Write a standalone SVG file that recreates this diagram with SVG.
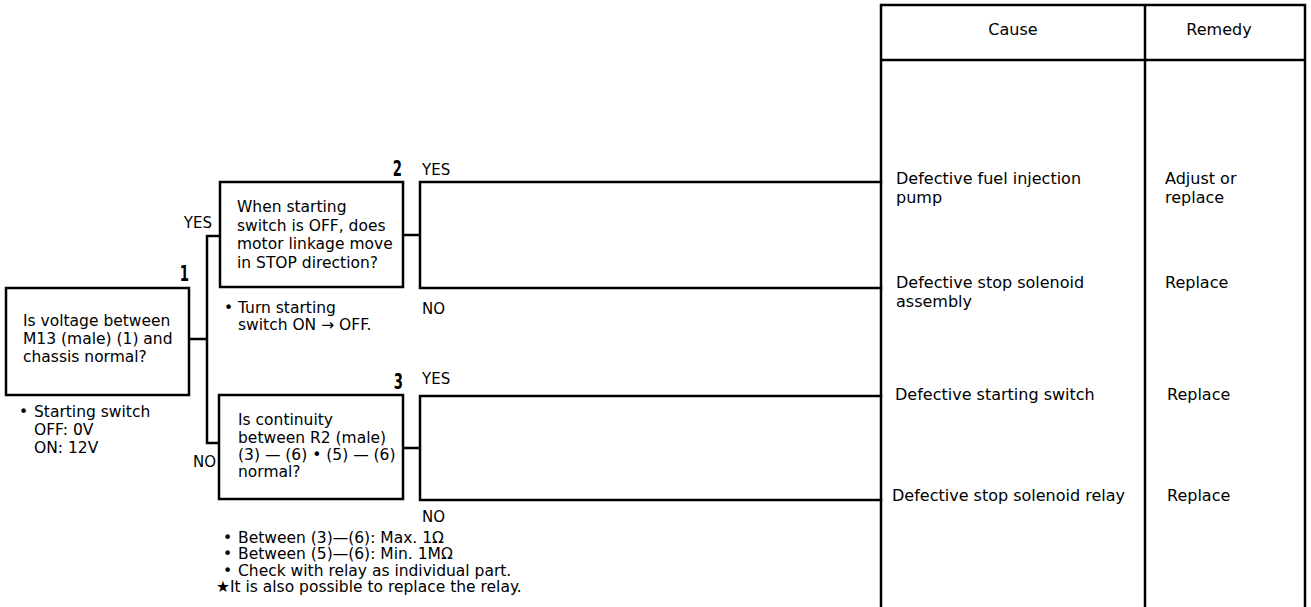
<svg xmlns="http://www.w3.org/2000/svg" width="1311" height="607" viewBox="0 0 1311 607">
<style>
  .ln{fill:none;stroke:#000;stroke-width:2.5;stroke-linecap:square}
  .box{fill:#fff;stroke:#000;stroke-width:2.5}
  .t{font-family:"DejaVu Sans","Liberation Sans",sans-serif;font-size:15.5px;fill:#000}
  .tt{font-family:"DejaVu Sans","Liberation Sans",sans-serif;font-size:16px;fill:#000}
  .lb{font-family:"DejaVu Sans","Liberation Sans",sans-serif;font-size:15px;fill:#000}
  .num{font-family:"DejaVu Sans Condensed","DejaVu Sans",sans-serif;font-size:21px;font-weight:bold;fill:#000}
</style>
<rect width="1311" height="607" fill="#fff"/>

<g id="table">
  <path class="ln" d="M881,5 H1305 M881,60 H1305 M881,5 V607 M1145,5 V607 M1305,5 V607"/>
  <text class="tt" x="1013" y="35" text-anchor="middle">Cause</text>
  <text class="tt" x="1219" y="35" text-anchor="middle">Remedy</text>
</g>

<g id="connectors">
  <path class="ln" d="M189,339 H207 M207,236 V443 M207,236 H220 M207,443 H219"/>
  <path class="ln" d="M403,235 H420 M420,182 V288 M420,182 H881 M420,288 H881"/>
  <path class="ln" d="M403,448 H420 M420,396 V500 M420,396 H881 M420,500 H881"/>
  <text class="lb" x="212" y="228" text-anchor="end">YES</text>
  <text class="lb" x="193" y="467">NO</text>
  <text class="lb" x="422" y="175">YES</text>
  <text class="lb" x="422" y="314">NO</text>
  <text class="lb" x="422" y="384">YES</text>
  <text class="lb" x="422" y="522">NO</text>
</g>

<g id="q1">
  <text class="num" transform="translate(189,281) scale(0.7,1)" text-anchor="end">1</text>
  <rect class="box" x="6" y="288" width="183" height="107"/>
  <text class="t" x="23" y="326">Is voltage between</text>
  <text class="t" x="23" y="344">M13 (male) (1) and</text>
  <text class="t" x="23" y="362">chassis normal?</text>
  <text class="t" x="19" y="417">•</text>
  <text class="t" x="34" y="417">Starting switch</text>
  <text class="t" x="34" y="435">OFF: 0V</text>
  <text class="t" x="34" y="453">ON: 12V</text>
</g>

<g id="q2">
  <text class="num" transform="translate(402,176) scale(0.7,1)" text-anchor="end">2</text>
  <rect class="box" x="220" y="182" width="183" height="105"/>
  <text class="t" x="237" y="212">When starting</text>
  <text class="t" x="237" y="230.5">switch is OFF, does</text>
  <text class="t" x="237" y="249">motor linkage move</text>
  <text class="t" x="237" y="267.5">in STOP direction?</text>
  <text class="t" x="224" y="313">•</text>
  <text class="t" x="238" y="313">Turn starting</text>
  <text class="t" x="238" y="330">switch ON → OFF.</text>
</g>

<g id="q3">
  <text class="num" transform="translate(403,389) scale(0.7,1)" text-anchor="end">3</text>
  <rect class="box" x="219" y="395" width="184" height="104"/>
  <text class="t" x="238" y="425">Is continuity</text>
  <text class="t" x="238" y="443">between R2 (male)</text>
  <text class="t" x="238" y="460">(3) — (6) • (5) — (6)</text>
  <text class="t" x="238" y="477">normal?</text>
  <text class="t" x="223" y="543">•</text>
  <text class="t" x="238" y="543">Between (3)—(6): Max. 1Ω</text>
  <text class="t" x="223" y="559">•</text>
  <text class="t" x="238" y="559">Between (5)—(6): Min. 1MΩ</text>
  <text class="t" x="223" y="575.5">•</text>
  <text class="t" x="238" y="575.5">Check with relay as individual part.</text>
  <text class="t" x="216" y="592">★It is also possible to replace the relay.</text>
</g>

<g id="r1">
  <text class="tt" x="896" y="184">Defective fuel injection</text>
  <text class="tt" x="896" y="203">pump</text>
  <text class="tt" x="1165" y="184">Adjust or</text>
  <text class="tt" x="1165" y="203">replace</text>
</g>
<g id="r2">
  <text class="tt" x="896" y="288">Defective stop solenoid</text>
  <text class="tt" x="896" y="307">assembly</text>
  <text class="tt" x="1165" y="288">Replace</text>
</g>
<g id="r3">
  <text class="tt" x="895" y="400">Defective starting switch</text>
  <text class="tt" x="1167" y="400">Replace</text>
</g>
<g id="r4">
  <text class="tt" x="892" y="501">Defective stop solenoid relay</text>
  <text class="tt" x="1167" y="501">Replace</text>
</g>
</svg>
